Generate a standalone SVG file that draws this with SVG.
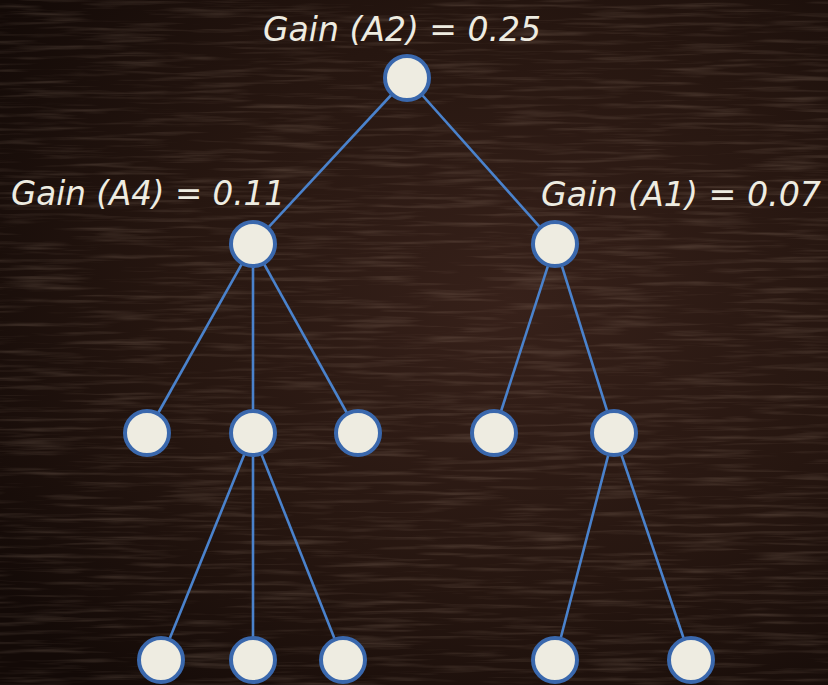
<svg xmlns="http://www.w3.org/2000/svg" width="828" height="685" viewBox="0 0 828 685">
<defs>
<radialGradient id="bg" cx="0.62" cy="0.45" r="0.75">
<stop offset="0" stop-color="#37211a"/>
<stop offset="0.55" stop-color="#261610"/>
<stop offset="1" stop-color="#130a07"/>
</radialGradient>
<filter id="grain" x="0" y="0" width="100%" height="100%">
<feTurbulence type="fractalNoise" baseFrequency="0.012 0.22" numOctaves="3" seed="7" result="n"/>
<feColorMatrix in="n" type="matrix" values="0 0 0 0 0.55  0 0 0 0 0.4  0 0 0 0 0.3  0 0 0 1.8 -0.85"/>
</filter>
<style>
.edge{stroke:#4a82cc;stroke-width:2.6;fill:none}
.node{fill:#eeece1;stroke:#3a68ad;stroke-width:4}
.lbl{font-family:"DejaVu Sans Condensed","DejaVu Sans","Liberation Sans",sans-serif;font-style:italic;font-size:34px;fill:#eeece1}
</style>
</defs>
<rect width="828" height="685" fill="url(#bg)"/>
<rect width="828" height="685" filter="url(#grain)" opacity="0.25"/>
<g id="connectors">
<line class="edge" x1="407" y1="78" x2="253" y2="244"/>
<line class="edge" x1="407" y1="78" x2="555" y2="244"/>
<line class="edge" x1="253" y1="244" x2="147" y2="433"/>
<line class="edge" x1="253" y1="244" x2="253" y2="433"/>
<line class="edge" x1="253" y1="244" x2="358" y2="433"/>
<line class="edge" x1="555" y1="244" x2="494" y2="433"/>
<line class="edge" x1="555" y1="244" x2="614" y2="433"/>
<line class="edge" x1="253" y1="433" x2="161" y2="660"/>
<line class="edge" x1="253" y1="433" x2="253" y2="660"/>
<line class="edge" x1="253" y1="433" x2="343" y2="660"/>
<line class="edge" x1="614" y1="433" x2="555" y2="660"/>
<line class="edge" x1="614" y1="433" x2="691" y2="660"/>
</g>
<g id="n_root"><circle class="node" cx="407" cy="78" r="22"/></g>
<g id="n_a4"><circle class="node" cx="253" cy="244" r="22"/></g>
<g id="n_a1"><circle class="node" cx="555" cy="244" r="22"/></g>
<g id="n_l2a"><circle class="node" cx="147" cy="433" r="22"/></g>
<g id="n_l2b"><circle class="node" cx="253" cy="433" r="22"/></g>
<g id="n_l2c"><circle class="node" cx="358" cy="433" r="22"/></g>
<g id="n_l2d"><circle class="node" cx="494" cy="433" r="22"/></g>
<g id="n_l2e"><circle class="node" cx="614" cy="433" r="22"/></g>
<g id="n_l3a"><circle class="node" cx="161" cy="660" r="22"/></g>
<g id="n_l3b"><circle class="node" cx="253" cy="660" r="22"/></g>
<g id="n_l3c"><circle class="node" cx="343" cy="660" r="22"/></g>
<g id="n_l3d"><circle class="node" cx="555" cy="660" r="22"/></g>
<g id="n_l3e"><circle class="node" cx="691" cy="660" r="22"/></g>
<g id="labels">
<text class="lbl" x="263" y="41" textLength="278" lengthAdjust="spacingAndGlyphs">Gain (A2) = 0.25</text>
<text class="lbl" x="11" y="205" textLength="274" lengthAdjust="spacingAndGlyphs">Gain (A4) = 0.11</text>
<text class="lbl" x="541" y="206" textLength="280" lengthAdjust="spacingAndGlyphs">Gain (A1) = 0.07</text>
</g>
</svg>
